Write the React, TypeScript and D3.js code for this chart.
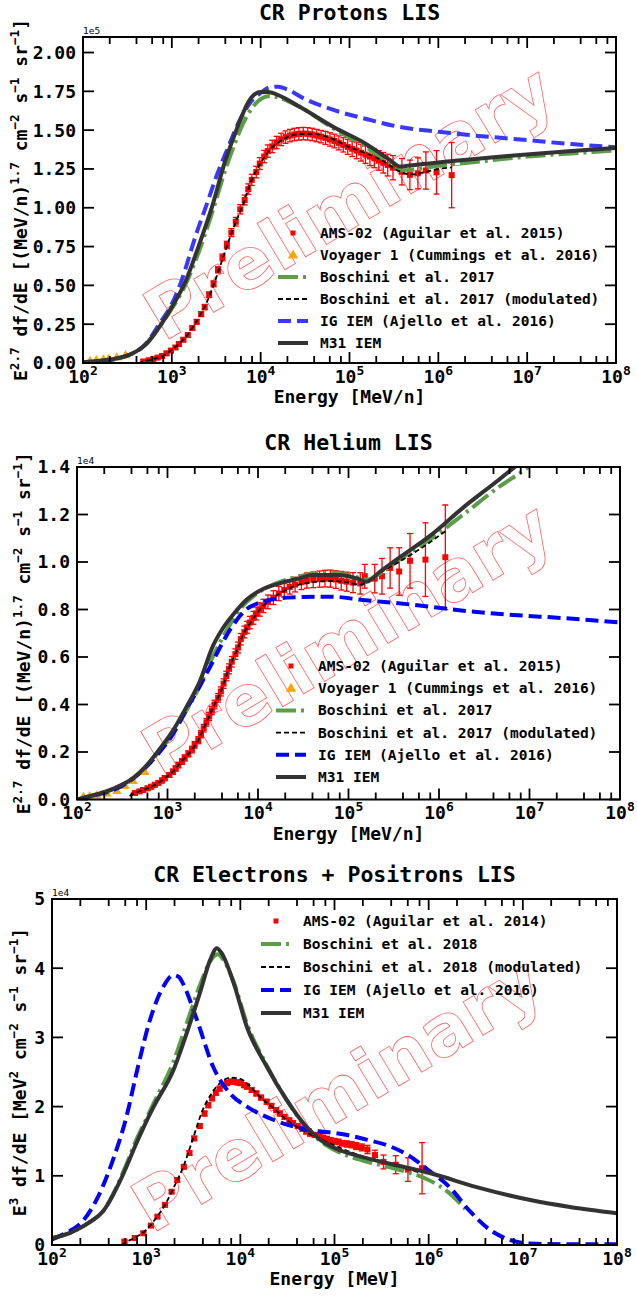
import React from 'react';
import * as d3 from 'd3';

type Pt = [number, number];          // [log10 E, value]
type ErrPt = [number, number, number]; // [log10 E, value, error]
type Seg = [string, boolean];        // [text, superscript]

// ---------- CR protons (values in 1e5) ----------
const protonM31: Pt[] = [
  [2.0, 0.005], [2.2, 0.015], [2.4, 0.032], [2.55, 0.06], [2.7, 0.115], [2.87, 0.24], [3.0, 0.36],
  [3.15, 0.52], [3.3, 0.75], [3.46, 1.02], [3.6, 1.3], [3.7, 1.46], [3.78, 1.58], [3.86, 1.68],
  [3.93, 1.73], [4.0, 1.745], [4.08, 1.745], [4.22, 1.72], [4.44, 1.65], [4.82, 1.52], [5.19, 1.41],
  [5.45, 1.31], [5.57, 1.265], [5.65, 1.27], [5.8, 1.28], [6.32, 1.31], [6.92, 1.34], [7.5, 1.365], [8.0, 1.385],
];
const protonBoschini: Pt[] = [
  [2.0, 0.005], [2.2, 0.015], [2.4, 0.032], [2.55, 0.06], [2.7, 0.115], [2.87, 0.24], [3.0, 0.35],
  [3.15, 0.5], [3.3, 0.71], [3.46, 0.98], [3.6, 1.24], [3.7, 1.4], [3.8, 1.54], [3.9, 1.64], [4.0, 1.7],
  [4.1, 1.72], [4.2, 1.71], [4.44, 1.65], [4.82, 1.51], [5.19, 1.39], [5.45, 1.29], [5.6, 1.24],
  [5.7, 1.245], [6.0, 1.27], [6.5, 1.3], [7.0, 1.33], [7.5, 1.35], [8.0, 1.37],
];
const protonIG: Pt[] = [
  [2.0, 0.0], [2.2, 0.012], [2.4, 0.03], [2.55, 0.06], [2.7, 0.12], [2.87, 0.26], [3.0, 0.38],
  [3.09, 0.5], [3.28, 0.84], [3.41, 1.05], [3.5, 1.2], [3.62, 1.37], [3.77, 1.57], [3.9, 1.69],
  [4.0, 1.74], [4.1, 1.775], [4.2, 1.78], [4.29, 1.765], [4.5, 1.7], [4.82, 1.63], [5.2, 1.57],
  [5.57, 1.52], [6.0, 1.49], [6.32, 1.47], [6.92, 1.44], [7.5, 1.41], [8.0, 1.39],
];
const protonMod: Pt[] = [
  [2.62, 0.0], [2.7, 0.012], [2.8, 0.027], [2.9, 0.047], [3.0, 0.085], [3.1, 0.135], [3.2, 0.2],
  [3.3, 0.29], [3.4, 0.4], [3.5, 0.55], [3.6, 0.72], [3.7, 0.88], [3.8, 1.02], [3.9, 1.18], [4.0, 1.29],
  [4.1, 1.37], [4.25, 1.44], [4.45, 1.475], [4.6, 1.475], [4.82, 1.44], [5.0, 1.39], [5.19, 1.35],
  [5.38, 1.3], [5.5, 1.255], [5.6, 1.225], [5.7, 1.215], [5.85, 1.23], [6.0, 1.25], [6.15, 1.26],
];
const protonAMS: ErrPt[] = [
  [2.68, 0.01, 0.01], [2.74, 0.018, 0.01], [2.79, 0.025, 0.01], [2.84, 0.035, 0.01], [2.89, 0.045, 0.012],
  [2.94, 0.062, 0.012], [2.99, 0.08, 0.012], [3.04, 0.1, 0.012], [3.08, 0.122, 0.012], [3.13, 0.15, 0.013],
  [3.18, 0.18, 0.013], [3.23, 0.225, 0.014], [3.28, 0.265, 0.015], [3.33, 0.315, 0.016], [3.37, 0.36, 0.017],
  [3.42, 0.44, 0.018], [3.47, 0.51, 0.019], [3.52, 0.6, 0.02], [3.57, 0.68, 0.022], [3.62, 0.76, 0.024],
  [3.67, 0.84, 0.026], [3.72, 0.91, 0.028], [3.77, 0.99, 0.03], [3.82, 1.05, 0.032], [3.86, 1.12, 0.034],
  [3.9, 1.18, 0.036], [3.95, 1.23, 0.037], [3.99, 1.285, 0.038], [4.04, 1.33, 0.04], [4.08, 1.365, 0.04],
  [4.13, 1.395, 0.04], [4.18, 1.42, 0.04], [4.23, 1.44, 0.04], [4.28, 1.455, 0.04], [4.33, 1.465, 0.04],
  [4.38, 1.472, 0.04], [4.43, 1.476, 0.04], [4.48, 1.478, 0.04], [4.53, 1.476, 0.04], [4.58, 1.472, 0.04],
  [4.63, 1.465, 0.04], [4.68, 1.458, 0.04], [4.73, 1.45, 0.042], [4.78, 1.44, 0.043], [4.83, 1.43, 0.044],
  [4.88, 1.418, 0.045], [4.93, 1.405, 0.046], [4.98, 1.392, 0.048], [5.03, 1.38, 0.05], [5.08, 1.368, 0.052],
  [5.13, 1.355, 0.054], [5.18, 1.342, 0.056], [5.23, 1.33, 0.058], [5.28, 1.318, 0.06], [5.33, 1.305, 0.063],
  [5.38, 1.29, 0.066], [5.43, 1.275, 0.07], [5.49, 1.258, 0.078], [5.59, 1.232, 0.085], [5.68, 1.212, 0.095],
  [5.77, 1.222, 0.1], [5.86, 1.24, 0.12], [5.98, 1.228, 0.14], [6.15, 1.21, 0.21],
];
const protonVoyager: Pt[] = [
  [2.08, 0.014], [2.15, 0.019], [2.23, 0.024], [2.29, 0.028], [2.38, 0.037], [2.48, 0.052],
];

// ---------- CR helium (values in 1e4) ----------
const heliumM31: Pt[] = [
  [2.0, 0.0], [2.2, 0.02], [2.4, 0.045], [2.62, 0.09], [2.75, 0.135], [2.88, 0.196], [3.06, 0.29],
  [3.21, 0.39], [3.36, 0.5], [3.5, 0.645], [3.61, 0.72], [3.75, 0.79], [3.87, 0.84], [4.05, 0.885],
  [4.24, 0.91], [4.45, 0.93], [4.61, 0.945], [4.87, 0.945], [5.0, 0.94], [5.1, 0.93], [5.2, 0.917],
  [5.35, 0.96], [5.53, 1.01], [5.9, 1.11], [6.27, 1.23], [6.64, 1.34], [6.82, 1.395], [7.2, 1.52],
];
const heliumBoschini: Pt[] = [
  [2.0, 0.0], [2.2, 0.02], [2.4, 0.045], [2.62, 0.09], [2.88, 0.19], [3.06, 0.28], [3.21, 0.375],
  [3.36, 0.48], [3.5, 0.6], [3.65, 0.71], [3.8, 0.8], [4.0, 0.87], [4.2, 0.91], [4.4, 0.935], [4.6, 0.95],
  [4.85, 0.955], [5.0, 0.945], [5.1, 0.935], [5.2, 0.925], [5.4, 0.965], [5.6, 1.02], [5.9, 1.095],
  [6.27, 1.2], [6.64, 1.31], [6.97, 1.395], [7.3, 1.5],
];
const heliumIG: Pt[] = [
  [2.0, 0.0], [2.2, 0.018], [2.4, 0.04], [2.62, 0.088], [2.88, 0.185], [3.06, 0.275], [3.21, 0.38],
  [3.36, 0.48], [3.5, 0.58], [3.58, 0.64], [3.7, 0.72], [3.87, 0.8], [4.06, 0.833], [4.32, 0.85],
  [4.8, 0.854], [5.16, 0.84], [5.71, 0.82], [6.27, 0.795], [6.82, 0.777], [7.37, 0.764], [8.0, 0.745],
];
const heliumMod: Pt[] = [
  [2.58, 0.015], [2.64, 0.027], [2.73, 0.04], [2.82, 0.054], [2.9, 0.07], [2.97, 0.09], [3.06, 0.117],
  [3.12, 0.145], [3.19, 0.175], [3.27, 0.21], [3.34, 0.25], [3.4, 0.3], [3.46, 0.35], [3.52, 0.4],
  [3.59, 0.455], [3.65, 0.52], [3.71, 0.58], [3.78, 0.64], [3.83, 0.69], [3.91, 0.74], [4.02, 0.8],
  [4.17, 0.85], [4.35, 0.89], [4.61, 0.915], [4.8, 0.92], [4.98, 0.915], [5.13, 0.905], [5.18, 0.91],
  [5.35, 0.955], [5.6, 1.01], [5.85, 1.07], [6.07, 1.13],
];
const heliumAMS: ErrPt[] = [
  [2.64, 0.027, 0.008], [2.69, 0.034, 0.008], [2.73, 0.04, 0.008], [2.78, 0.047, 0.008], [2.82, 0.054, 0.009],
  [2.86, 0.062, 0.009], [2.9, 0.07, 0.009], [2.94, 0.08, 0.01], [2.97, 0.09, 0.01], [3.02, 0.103, 0.01],
  [3.06, 0.117, 0.011], [3.09, 0.131, 0.011], [3.12, 0.145, 0.012], [3.16, 0.16, 0.012], [3.19, 0.175, 0.013],
  [3.23, 0.192, 0.013], [3.27, 0.21, 0.014], [3.3, 0.23, 0.014], [3.34, 0.25, 0.015], [3.37, 0.275, 0.015],
  [3.4, 0.3, 0.016], [3.43, 0.325, 0.016], [3.46, 0.35, 0.017], [3.49, 0.375, 0.017], [3.52, 0.4, 0.018],
  [3.56, 0.428, 0.018], [3.59, 0.455, 0.019], [3.62, 0.488, 0.02], [3.65, 0.52, 0.02], [3.68, 0.55, 0.021],
  [3.71, 0.58, 0.022], [3.75, 0.612, 0.022], [3.78, 0.64, 0.023], [3.81, 0.675, 0.024], [3.85, 0.705, 0.025],
  [3.88, 0.725, 0.025], [3.91, 0.745, 0.026], [3.95, 0.765, 0.027], [3.98, 0.783, 0.027], [4.02, 0.8, 0.028],
  [4.06, 0.815, 0.028], [4.11, 0.832, 0.029], [4.17, 0.85, 0.029], [4.23, 0.867, 0.03], [4.29, 0.882, 0.03],
  [4.35, 0.895, 0.03], [4.41, 0.905, 0.031], [4.48, 0.915, 0.031], [4.54, 0.922, 0.032], [4.61, 0.925, 0.033],
  [4.68, 0.928, 0.034], [4.74, 0.93, 0.035], [4.8, 0.93, 0.036], [4.86, 0.926, 0.037], [4.92, 0.921, 0.039],
  [4.98, 0.917, 0.04], [5.05, 0.913, 0.042], [5.13, 0.91, 0.045], [5.18, 0.94, 0.05], [5.29, 0.93, 0.06],
  [5.37, 0.94, 0.075], [5.46, 0.975, 0.085], [5.56, 0.96, 0.1], [5.68, 1.005, 0.115], [5.85, 1.01, 0.155],
  [6.07, 1.02, 0.22],
];
const heliumVoyager: Pt[] = [
  [2.07, 0.012], [2.14, 0.015], [2.22, 0.018], [2.33, 0.026], [2.44, 0.037], [2.53, 0.058], [2.62, 0.079], [2.75, 0.117],
];

// ---------- CR electrons + positrons (values in 1e4) ----------
const elecM31: Pt[] = [
  [2.0, 0.1], [2.2, 0.18], [2.4, 0.33], [2.55, 0.5], [2.7, 0.86], [2.8, 1.16], [2.88, 1.42], [3.0, 1.78],
  [3.08, 2.0], [3.29, 2.53], [3.43, 3.06], [3.57, 3.64], [3.68, 4.12], [3.75, 4.29], [3.8, 4.22],
  [3.93, 3.78], [4.07, 3.15], [4.28, 2.58], [4.49, 2.1], [4.7, 1.71], [4.85, 1.52], [5.02, 1.39],
  [5.3, 1.27], [5.6, 1.17], [6.04, 1.03], [6.5, 0.84], [7.08, 0.65], [7.5, 0.55], [8.0, 0.46],
];
const elecBoschini: Pt[] = [
  [2.0, 0.1], [2.2, 0.18], [2.4, 0.33], [2.55, 0.5], [2.7, 0.88], [2.8, 1.2], [2.88, 1.47], [3.0, 1.82],
  [3.08, 2.05], [3.29, 2.65], [3.43, 3.2], [3.57, 3.75], [3.68, 4.1], [3.76, 4.2], [3.82, 4.12],
  [3.93, 3.8], [4.07, 3.2], [4.28, 2.6], [4.49, 2.1], [4.7, 1.7], [4.85, 1.5], [5.02, 1.36], [5.3, 1.22],
  [5.6, 1.12], [5.78, 1.05], [5.9, 1.0], [6.0, 0.94], [6.22, 0.75], [6.39, 0.52],
];
const elecIG: Pt[] = [
  [2.0, 0.08], [2.14, 0.17], [2.31, 0.32], [2.49, 0.7], [2.66, 1.28], [2.79, 1.85], [2.9, 2.5],
  [3.04, 3.25], [3.18, 3.73], [3.29, 3.9], [3.35, 3.87], [3.39, 3.78], [3.54, 3.25], [3.71, 2.58],
  [3.89, 2.19], [4.07, 2.0], [4.35, 1.81], [4.7, 1.67], [5.09, 1.6], [5.35, 1.52], [5.6, 1.42],
  [5.78, 1.3], [6.0, 1.08], [6.22, 0.84], [6.43, 0.5], [6.65, 0.22], [6.87, 0.07], [7.08, 0.02],
  [7.5, 0.01], [8.0, 0.01],
];
const elecMod: Pt[] = [
  [2.74, 0.0], [2.8, 0.05], [2.9, 0.12], [3.0, 0.22], [3.1, 0.38], [3.2, 0.58], [3.3, 0.85], [3.4, 1.15],
  [3.5, 1.55], [3.6, 1.95], [3.7, 2.2], [3.8, 2.36], [3.9, 2.42], [4.0, 2.4], [4.1, 2.3], [4.2, 2.15],
  [4.35, 1.98], [4.5, 1.8], [4.7, 1.63], [4.9, 1.5], [5.1, 1.38], [5.3, 1.28], [5.5, 1.2], [5.7, 1.13],
  [5.9, 1.05],
];
const elecAMS: ErrPt[] = [
  [2.77, 0.05, 0.02], [2.88, 0.1, 0.02], [2.97, 0.17, 0.02], [3.05, 0.28, 0.02], [3.12, 0.41, 0.02],
  [3.2, 0.58, 0.02], [3.27, 0.77, 0.02], [3.33, 0.94, 0.025], [3.4, 1.13, 0.025], [3.46, 1.33, 0.03],
  [3.51, 1.54, 0.03], [3.57, 1.72, 0.03], [3.62, 1.9, 0.035], [3.66, 2.02, 0.035], [3.7, 2.12, 0.035],
  [3.74, 2.2, 0.035], [3.78, 2.26, 0.035], [3.82, 2.31, 0.035], [3.86, 2.34, 0.035], [3.9, 2.36, 0.035],
  [3.93, 2.36, 0.035], [3.97, 2.35, 0.035], [4.0, 2.34, 0.035], [4.04, 2.31, 0.035], [4.07, 2.29, 0.035],
  [4.12, 2.24, 0.035], [4.17, 2.19, 0.035], [4.22, 2.13, 0.035], [4.28, 2.07, 0.035], [4.33, 2.01, 0.035],
  [4.38, 1.95, 0.035], [4.42, 1.9, 0.035], [4.47, 1.85, 0.035], [4.52, 1.8, 0.035], [4.56, 1.76, 0.035],
  [4.61, 1.72, 0.035], [4.66, 1.68, 0.035], [4.7, 1.64, 0.035], [4.74, 1.61, 0.035], [4.79, 1.59, 0.035],
  [4.84, 1.57, 0.035], [4.88, 1.55, 0.035], [4.92, 1.53, 0.04], [4.96, 1.51, 0.04], [5.0, 1.5, 0.04],
  [5.04, 1.49, 0.04], [5.08, 1.47, 0.04], [5.13, 1.46, 0.045], [5.18, 1.45, 0.045], [5.23, 1.43, 0.05],
  [5.29, 1.41, 0.05], [5.35, 1.38, 0.06], [5.43, 1.3, 0.07], [5.52, 1.2, 0.1], [5.65, 1.16, 0.13],
  [5.78, 1.09, 0.17], [5.93, 1.11, 0.37],
];

// ---------- tick labels ----------
const xMajorExp = [2, 3, 4, 5, 6, 7, 8];
const xMinorMult = [2, 4, 6, 8];
const protonYTicks = [0, 0.25, 0.5, 0.75, 1.0, 1.25, 1.5, 1.75, 2.0];
const heliumYTicks = [0, 0.2, 0.4, 0.6, 0.8, 1.0, 1.2, 1.4];
const elecYTicks = [0, 1, 2, 3, 4, 5];

const nucleiLegend = [
  'AMS-02 (Aguilar et al. 2015)',
  'Voyager 1 (Cummings et al. 2016)',
  'Boschini et al. 2017',
  'Boschini et al. 2017 (modulated)',
  'IG IEM (Ajello et al. 2016)',
  'M31 IEM',
];
const elecLegend = [
  'AMS-02 (Aguilar et al. 2014)',
  'Boschini et al. 2018',
  'Boschini et al. 2018 (modulated)',
  'IG IEM (Ajello et al. 2016)',
  'M31 IEM',
];

const nucleiYLabel: Seg[] = [
  ['E', false], ['2.7', true], [' df/dE [(MeV/n)', false], ['1.7', true], [' cm', false], ['\u22122', true],
  [' s', false], ['\u22121', true], [' sr', false], ['\u22121', true], [']', false],
];
const elecYLabel: Seg[] = [
  ['E', false], ['3', true], [' df/dE [MeV', false], ['2', true], [' cm', false], ['\u22122', true],
  [' s', false], ['\u22121', true], [' sr', false], ['\u22121', true], [']', false],
];

const FONT = '"DejaVu Sans Mono", monospace';
const RED = '#ff0000';
const ORANGE = '#ffa500';
const GREEN = '#5a9e48';
const DARK = '#333333';

function Rich({ segs, size }: { segs: Seg[]; size: number }) {
  let raised = false;
  return (
    <>
      {segs.map(([t, sup], i) => {
        let dy = 0;
        if (sup && !raised) dy = -size * 0.42;
        if (!sup && raised) dy = size * 0.42;
        raised = sup;
        return (
          <tspan key={i} dy={dy || undefined} fontSize={sup ? size * 0.7 : size}>{t}</tspan>
        );
      })}
    </>
  );
}

type Kind = 'ams' | 'voyager' | 'green' | 'mod' | 'blue' | 'm31';

interface PanelProps {
  id: string;
  box: { left: number; right: number; top: number; bottom: number };
  yMax: number;
  yTicks: number[];
  yFmt: (v: number) => string;
  offset: string;
  title: string;
  xLabel: string;
  yLabel: Seg[];
  yLabelX: number;
  ams: ErrPt[];
  voyager?: Pt[];
  green: Pt[];
  mod: Pt[];
  blue: Pt[];
  m31: Pt[];
  blueColor: string;
  legend: string[];
  kinds: Kind[];
  legendX: number;
  legendY: number;
  legendStep: number;
  mark: { x: number; y: number };
}

function Panel(p: PanelProps) {
  const { left, right, top, bottom } = p.box;
  const x = d3.scaleLog().domain([1e2, 1e8]).range([left, right]);
  const y = d3.scaleLinear().domain([0, p.yMax]).range([bottom, top]);
  const line = d3.line<Pt>()
    .x(d => x(Math.pow(10, d[0])))
    .y(d => y(d[1]))
    .curve(d3.curveMonotoneX);

  const majors = xMajorExp.map(e => Math.pow(10, e));
  const minors: number[] = [];
  xMajorExp.slice(0, -1).forEach(e => xMinorMult.forEach(m => minors.push(m * Math.pow(10, e))));

  const tri = (cx: number, cy: number, s: number) =>
    `M${cx},${cy - s}L${cx + s * 0.95},${cy + s * 0.65}L${cx - s * 0.95},${cy + s * 0.65}Z`;

  const styles: Record<string, any> = {
    green: { stroke: GREEN, strokeWidth: 4, strokeDasharray: '20,5,3,5' },
    mod: { stroke: '#000', strokeWidth: 1.8, strokeDasharray: '5,3' },
    blue: { stroke: p.blueColor, strokeWidth: 4, strokeDasharray: '13,6' },
    m31: { stroke: DARK, strokeWidth: 4 },
  };

  const lx0 = p.legendX - 42;
  const lx1 = p.legendX - 12;

  return (
    <g fontFamily={FONT} fontWeight="bold">
      <defs>
        <clipPath id={p.id}>
          <rect x={left} y={top} width={right - left} height={bottom - top} />
        </clipPath>
      </defs>

      {/* watermark */}
      <text
        x={p.mark.x} y={p.mark.y} dy="0.35em" textAnchor="middle"
        transform={`rotate(-31 ${p.mark.x} ${p.mark.y})`}
        fontFamily='"DejaVu Sans", sans-serif' fontWeight="bold" fontSize={71}
        fill="none" stroke="#ff3030" strokeWidth={0.8} opacity={0.75}
      >Preliminary</text>

      <g clipPath={`url(#${p.id})`}>
        {/* AMS-02 with error bars */}
        <g stroke={RED} strokeWidth={1.3}>
          {p.ams.map(([e, v, s], i) => {
            const cx = x(Math.pow(10, e));
            const y0 = y(v - s), y1 = y(v + s);
            return (
              <g key={i}>
                <line x1={cx} x2={cx} y1={y0} y2={y1} />
                <line x1={cx - 3} x2={cx + 3} y1={y0} y2={y0} />
                <line x1={cx - 3} x2={cx + 3} y1={y1} y2={y1} />
              </g>
            );
          })}
        </g>
        {p.ams.map(([e, v], i) => (
          <rect key={i} x={x(Math.pow(10, e)) - 3} y={y(v) - 3} width={6} height={6} fill={RED} />
        ))}
        {p.voyager && p.voyager.map(([e, v], i) => (
          <path key={i} d={tri(x(Math.pow(10, e)), y(v), 5)} fill={ORANGE} />
        ))}
        <path d={line(p.green) || ''} fill="none" {...styles.green} />
        <path d={line(p.mod) || ''} fill="none" {...styles.mod} />
        <path d={line(p.blue) || ''} fill="none" {...styles.blue} />
        <path d={line(p.m31) || ''} fill="none" {...styles.m31} />
      </g>

      {/* axes frame */}
      <rect x={left} y={top} width={right - left} height={bottom - top} fill="none" stroke="#000" strokeWidth={2} />

      {/* ticks, pointing inward on all sides */}
      <g stroke="#000" strokeWidth={1.8}>
        {majors.map((v, i) => (
          <g key={'M' + i}>
            <line x1={x(v)} x2={x(v)} y1={bottom} y2={bottom - 11} />
            <line x1={x(v)} x2={x(v)} y1={top} y2={top + 11} />
          </g>
        ))}
        {minors.map((v, i) => (
          <g key={'m' + i}>
            <line x1={x(v)} x2={x(v)} y1={bottom} y2={bottom - 7} />
            <line x1={x(v)} x2={x(v)} y1={top} y2={top + 7} />
          </g>
        ))}
        {p.yTicks.map((v, i) => (
          <g key={'y' + i}>
            <line x1={left} x2={left + 11} y1={y(v)} y2={y(v)} />
            <line x1={right} x2={right - 11} y1={y(v)} y2={y(v)} />
          </g>
        ))}
      </g>

      {/* x tick labels */}
      {xMajorExp.map((e, i) => (
        <text key={i} x={x(Math.pow(10, e))} y={bottom + 19.5} textAnchor="middle" fontSize={18}>
          <tspan>10</tspan>
          <tspan dy={-8} fontSize={13}>{e}</tspan>
        </text>
      ))}
      {/* y tick labels */}
      {p.yTicks.map((v, i) => (
        <text key={i} x={left - 7} y={y(v)} dy="0.36em" textAnchor="end" fontSize={18}>{p.yFmt(v)}</text>
      ))}
      <text x={left} y={top - 3} fontSize={9.5} fontWeight="normal">{p.offset}</text>

      {/* titles and labels */}
      <text x={(left + right) / 2} y={top - 17.5} textAnchor="middle" fontSize={21.5}>{p.title}</text>
      <text x={(left + right) / 2} y={bottom + 40} textAnchor="middle" fontSize={18}>{p.xLabel}</text>
      <text
        x={p.yLabelX} y={(top + bottom) / 2} textAnchor="middle" fontSize={18}
        transform={`rotate(-90 ${p.yLabelX} ${(top + bottom) / 2})`} style={{ whiteSpace: 'pre' }}
      >
        <Rich segs={p.yLabel} size={18} />
      </text>

      {/* legend */}
      {p.legend.map((label, i) => {
        const cy = p.legendY + i * p.legendStep;
        const k = p.kinds[i];
        const mid = (lx0 + lx1) / 2;
        let handle: React.ReactNode = null;
        if (k === 'ams') handle = <rect x={mid - 2.5} y={cy - 2.5} width={5} height={5} fill={RED} />;
        else if (k === 'voyager') handle = <path d={tri(mid, cy, 5.5)} fill={ORANGE} />;
        else handle = <line x1={lx0} x2={lx1} y1={cy} y2={cy} {...styles[k]} />;
        return (
          <g key={i}>
            {handle}
            <text x={p.legendX} y={cy} dy="0.35em" fontSize={14.5}>{label}</text>
          </g>
        );
      })}
    </g>
  );
}

const nucleiKinds: Kind[] = ['ams', 'voyager', 'green', 'mod', 'blue', 'm31'];
const elecKinds: Kind[] = ['ams', 'green', 'mod', 'blue', 'm31'];

export default function App() {
  return (
    <svg
      width={637} height={1296} viewBox="0 0 637 1296"
      style={{ position: 'absolute', left: 0, top: 0, background: '#fff' }}
    >
      <rect width={637} height={1296} fill="#fff" />
      <Panel
        id="clipP" box={{ left: 83, right: 616, top: 37, bottom: 363 }} yMax={2.1}
        yTicks={protonYTicks} yFmt={d3.format('.2f')} offset="1e5"
        title="CR Protons LIS" xLabel="Energy [MeV/n]" yLabel={nucleiYLabel} yLabelX={27}
        ams={protonAMS} voyager={protonVoyager} green={protonBoschini} mod={protonMod}
        blue={protonIG} m31={protonM31} blueColor="#3838ff"
        legend={nucleiLegend} kinds={nucleiKinds} legendX={320} legendY={233} legendStep={22}
        mark={{ x: 349, y: 202 }}
      />
      <Panel
        id="clipHe" box={{ left: 77, right: 620, top: 467, bottom: 799.5 }} yMax={1.4}
        yTicks={heliumYTicks} yFmt={d3.format('.1f')} offset="1e4"
        title="CR Helium LIS" xLabel="Energy [MeV/n]" yLabel={nucleiYLabel} yLabelX={30}
        ams={heliumAMS} voyager={heliumVoyager} green={heliumBoschini} mod={heliumMod}
        blue={heliumIG} m31={heliumM31} blueColor="#0000ff"
        legend={nucleiLegend} kinds={nucleiKinds} legendX={318} legendY={666} legendStep={22.2}
        mark={{ x: 347, y: 639 }}
      />
      <Panel
        id="clipE" box={{ left: 52, right: 617, top: 899, bottom: 1245 }} yMax={5}
        yTicks={elecYTicks} yFmt={d3.format('d')} offset="1e4"
        title="CR Electrons + Positrons LIS" xLabel="Energy [MeV]" yLabel={elecYLabel} yLabelX={26}
        ams={elecAMS} green={elecBoschini} mod={elecMod}
        blue={elecIG} m31={elecM31} blueColor="#0000ff"
        legend={elecLegend} kinds={elecKinds} legendX={303} legendY={921} legendStep={23}
        mark={{ x: 337, y: 1094 }}
      />
    </svg>
  );
}
